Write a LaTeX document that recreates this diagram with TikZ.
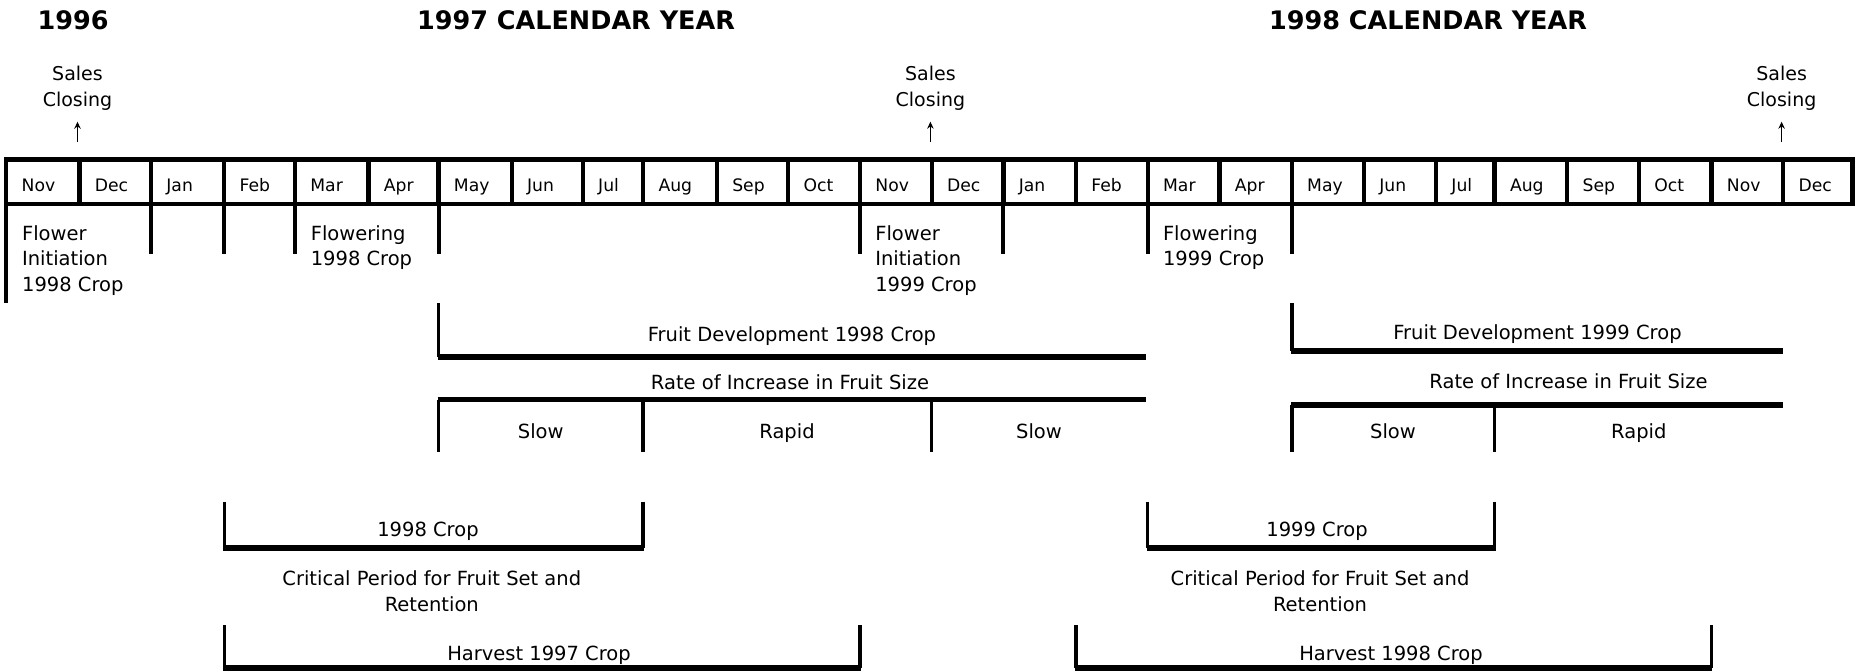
\documentclass[tikz,border=0pt]{standalone}
\usepackage{fontspec}
\setmainfont{DejaVu Sans}
\usetikzlibrary{arrows.meta}
\begin{document}
\begin{tikzpicture}[x=0.5pt,y=-0.5pt,
  grid/.style={line width=2.15pt},
  tick/.style={line width=2pt},
  bvert/.style={line width=1.7pt},
  bhor/.style={line width=2.7pt},
  head/.style={font=\bfseries\fontsize{12.75}{15}\selectfont, inner sep=0pt, anchor=base},
  mon/.style={font=\fontsize{8.6}{10}\selectfont, inner sep=0pt, anchor=base west},
  lbl/.style={font=\fontsize{9.75}{13}\selectfont, inner sep=0pt, anchor=base, align=center},
  lblw/.style={font=\fontsize{9.75}{12.75}\selectfont, inner sep=0pt, anchor=base west, align=left},
  sales/.style={font=\fontsize{9.5}{13.3}\selectfont, inner sep=0pt, anchor=base, align=center},
  up/.style={line width=0.7pt, -{Stealth[length=3.5pt,width=3.2pt]}},
]
\useasboundingbox (0,0) rectangle (1855,671);

% headings
\node[head] (h96) at (73,29.3) {1996};
\node[head] (h97) at (576,29.3) {1997 CALENDAR YEAR};
\node[head] (h98) at (1428,29.3) {1998 CALENDAR YEAR};

% sales closing (base = last line)
\node[sales] (sc1) at (77.5,106.7) {Sales\\Closing};
\node[sales] (sc2) at (930.4,106.7) {Sales\\Closing};
\node[sales] (sc3) at (1781.6,106.7) {Sales\\Closing};
\coordinate (a1b) at (77.5,141.7);   \coordinate (a1t) at (77.5,121.7);
\coordinate (a2b) at (930.4,141.7);  \coordinate (a2t) at (930.4,121.7);
\coordinate (a3b) at (1781.6,141.7); \coordinate (a3t) at (1781.6,121.7);
\draw[up] (a1b) -- (a1t);
\draw[up] (a2b) -- (a2t);
\draw[up] (a3b) -- (a3t);

% month row
\draw[grid] (6.3,159.5) rectangle (1852.6,203.8);
\foreach \x in {79.5,151,224.2,295,368.5,438.5,511.7,582.8,643.1,716.9,788.2,860,931.7,1003.4,1076,1147.7,1219.4,1291.8,1363.9,1436,1494.6,1567.2,1638.9,1711.5,1783.2}
  \draw[grid] (\x,159.5) -- (\x,203.8);
\foreach \x/\m [count=\i] in {6.3/Nov,79.5/Dec,151/Jan,224.2/Feb,295/Mar,368.5/Apr,438.5/May,511.7/Jun,582.8/Jul,643.1/Aug,716.9/Sep,788.2/Oct,860/Nov,931.7/Dec,1003.4/Jan,1076/Feb,1147.7/Mar,1219.4/Apr,1291.8/May,1363.9/Jun,1436/Jul,1494.6/Aug,1567.2/Sep,1638.9/Oct,1711.5/Nov,1783.2/Dec}
  \node[mon] (m\i) at (\x+15,191.7) {\m};

% ticks below row
\foreach \x in {151,224.2,295,438.5,860,1003.4,1147.7,1291.8}
  \draw[tick] (\x,203.8) -- (\x,254);
\draw[tick] (6.3,203.8) -- (6.3,303);

% flower labels (base = last line)
\node[lblw] (fi98) at (21.7,291) {Flower\\Initiation\\1998 Crop};
\node[lblw] (fl98) at (310.4,265.5) {Flowering\\1998 Crop};
\node[lblw] (fi99) at (874.9,291) {Flower\\Initiation\\1999 Crop};
\node[lblw] (fl99) at (1162.6,265.5) {Flowering\\1999 Crop};

% fruit development
\draw[bvert] (438.5,303) -- (438.5,357);
\draw[bhor] (437.6,357) -- (1146,357);
\node[lbl] (fd98) at (792,341) {Fruit Development 1998 Crop};
\draw[bvert] (1292,303) -- (1292,351);
\draw[bhor] (1291.1,351) -- (1783.2,351);
\node[lbl] (fd99) at (1537.5,339.5) {Fruit Development 1999 Crop};

% rate of increase
\node[lbl] (r98) at (790,389) {Rate of Increase in Fruit Size};
\draw[bhor] (437.6,399.5) -- (1146,399.5);
\foreach \x in {438.5,643,931.7} \draw[bvert] (\x,399.5) -- (\x,451.7);
\node[lbl] (s98a) at (540.7,438.3) {Slow};
\node[lbl] (r98a) at (787,438.3) {Rapid};
\node[lbl] (s98b) at (1039,438.3) {Slow};

\node[lbl] (r99) at (1568.5,388.3) {Rate of Increase in Fruit Size};
\draw[bhor] (1291.1,405) -- (1783.2,405);
\foreach \x in {1292,1494.6} \draw[bvert] (\x,405) -- (\x,451.7);
\node[lbl] (s99a) at (1393,438.3) {Slow};
\node[lbl] (r99a) at (1638.8,438.3) {Rapid};

% crop brackets
\draw[bvert] (224.2,501.7) -- (224.2,548);
\draw[bvert] (643,501.7) -- (643,548);
\draw[bhor] (223.3,548) -- (643.9,548);
\node[lbl] (c98) at (428,536.7) {1998 Crop};
\draw[bvert] (1147.7,501.7) -- (1147.7,548);
\draw[bvert] (1494.6,501.7) -- (1494.6,548);
\draw[bhor] (1146.8,548) -- (1495.5,548);
\node[lbl] (c99) at (1317,536.7) {1999 Crop};

% critical period (base = last line)
\node[lbl] (cp98) at (431.8,611.7) {Critical Period for Fruit Set and\\Retention};
\node[lbl] (cp99) at (1320,611.7) {Critical Period for Fruit Set and\\Retention};

% harvest
\draw[bvert] (224.2,625) -- (224.2,668);
\draw[bvert] (860,625) -- (860,668);
\draw[bhor] (223.3,668) -- (860.9,668);
\node[lbl] (hv97) at (539,660.7) {Harvest 1997 Crop};
\draw[bvert] (1076,625) -- (1076,668);
\draw[bvert] (1711.5,625) -- (1711.5,668);
\draw[bhor] (1075.1,668) -- (1712.4,668);
\node[lbl] (hv98) at (1391,660.7) {Harvest 1998 Crop};
\end{tikzpicture}
\end{document}
